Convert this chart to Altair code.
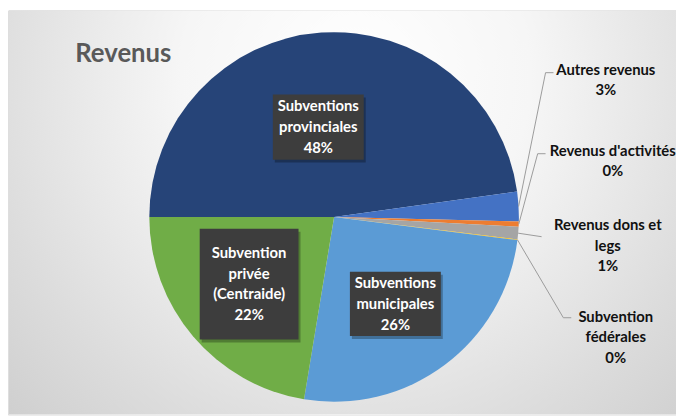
import math
import altair as alt
import pandas as pd

# ---------------- data ----------------
categories = [
    "Subventions provinciales",
    "Autres revenus",
    "Revenus d'activités",
    "Revenus dons et legs",
    "Subvention fédérales",
    "Subventions municipales",
    "Subvention privée (Centraide)",
]
values = [47.8, 2.6, 0.45, 1.1, 0.05, 25.6, 22.4]
colors = ["#264478", "#4472C4", "#ED7D31", "#A5A5A5", "#FFC000", "#5B9BD5", "#70AD47"]
label_lines = [
    ["Subventions", "provinciales"],
    ["Autres revenus"],
    ["Revenus d'activités"],
    ["Revenus dons et", "legs"],
    ["Subvention", "fédérales"],
    ["Subventions", "municipales"],
    ["Subvention", "privée", "(Centraide)"],
]
title_text = "Revenus"

# ---------------- layout ----------------
W, H = 676, 409
CX, CY, R = 330, 209, 187
START = 270.0  # degrees, 9 o'clock
FONT = "Lato"

# inside labels: index -> (center x, center y, box w, box h)
inside = {0: (314, 118, 92, 66), 5: (392, 297, 92, 65), 6: (244, 277, 100, 112)}
# outside labels: index -> (text x, first line y, elbow x, elbow y, end x, end y)
outside = {
    1: (605, 60, 544, 63, 552, 63),
    2: (612, 142, 536, 145, 544, 145),
    3: (607, 217, 540, 229, 540, 229),
    4: (615, 310, 562, 311, 570, 311),
}
LH = 21

total = sum(values)
pct = [round(v / total * 100) for v in values]
texts = ["\n".join(l + [f"{p}%"]) for l, p in zip(label_lines, pct)]
nlines = [len(l) + 1 for l in label_lines]

df = pd.DataFrame({"cat": categories, "value": values, "idx": list(range(len(values)))})

# midpoint of each slice on the rim (for leader lines)
mids = []
acc = 0.0
for v in values:
    a = math.radians(START + (acc + v / 2) / total * 360)
    mids.append((CX + R * math.sin(a), CY - R * math.cos(a)))
    acc += v

bg = alt.Chart(pd.DataFrame({"a": [0]})).mark_rect(
    fill=alt.Gradient(
        gradient="radial",
        stops=[
            alt.GradientStop(offset=0, color="#ffffff"),
            alt.GradientStop(offset=0.35, color="#f6f6f6"),
            alt.GradientStop(offset=0.75, color="#dcdcdc"),
            alt.GradientStop(offset=1, color="#cdcdcd"),
        ],
        x1=0.52, y1=0.3, r1=0, x2=0.52, y2=0.3, r2=0.75,
    )
).encode(x=alt.value(1), x2=alt.value(W), y=alt.value(0), y2=alt.value(H))

pie = alt.Chart(df).mark_arc(radius=R, strokeWidth=0).encode(
    theta=alt.Theta("value:Q", stack=True,
                    scale=alt.Scale(domain=[0, total], range=[math.radians(START), math.radians(START) + 2 * math.pi])),
    color=alt.Color("cat:N", scale=alt.Scale(domain=categories, range=colors), legend=None),
    order=alt.Order("idx:Q"),
    x=alt.value(CX),
    y=alt.value(CY),
)

# leader lines
segs = []
for i, (tx, ty, ex, ey, fx, fy) in outside.items():
    sx, sy = mids[i]
    segs.append({"x": sx, "y": sy, "x2": ex, "y2": ey})
    if (fx, fy) != (ex, ey):
        segs.append({"x": ex, "y": ey, "x2": fx, "y2": fy})
leaders = alt.Chart(pd.DataFrame(segs)).mark_rule(color="#9a9a9a", strokeWidth=1).encode(
    x=alt.X("x:Q", scale=None), y=alt.Y("y:Q", scale=None),
    x2="x2:Q", y2="y2:Q",
)

boxes = pd.DataFrame([
    {"x": cx - w / 2, "x2": cx + w / 2, "y": cy - h / 2, "y2": cy + h / 2}
    for (cx, cy, w, h) in inside.values()
])
shadow = alt.Chart(boxes).mark_rect(color="#000000", opacity=0.28).encode(
    x=alt.X("sx:Q", scale=None), x2="sx2:Q", y=alt.Y("sy:Q", scale=None), y2="sy2:Q"
).transform_calculate(sx="datum.x + 2", sx2="datum.x2 + 2", sy="datum.y + 3", sy2="datum.y2 + 3")
box = alt.Chart(boxes).mark_rect(color="#3d3d3d").encode(
    x=alt.X("x:Q", scale=None), x2="x2:Q", y=alt.Y("y:Q", scale=None), y2="y2:Q"
)

# first line y so that the text block is centred on the box
in_df = pd.DataFrame([
    {"x": inside[i][0], "y": inside[i][1] - (nlines[i] - 1) * LH / 2, "t": texts[i]} for i in inside
])
in_text = alt.Chart(in_df).mark_text(
    font=FONT, fontWeight="bold", fontSize=15, color="#ffffff",
    align="center", baseline="middle", lineBreak="\n", lineHeight=LH,
).encode(x=alt.X("x:Q", scale=None), y=alt.Y("y:Q", scale=None), text="t:N")

out_df = pd.DataFrame([
    {"x": outside[i][0], "y": outside[i][1], "t": texts[i]} for i in outside
])
out_text = alt.Chart(out_df).mark_text(
    font=FONT, fontWeight="bold", fontSize=15, color="#111111",
    align="center", baseline="middle", lineBreak="\n", lineHeight=LH,
).encode(x=alt.X("x:Q", scale=None), y=alt.Y("y:Q", scale=None), text="t:N")

title = alt.Chart(pd.DataFrame({"t": [title_text]})).mark_text(
    font=FONT, fontWeight="bold", fontSize=26, color="#595959",
    align="left", baseline="alphabetic",
).encode(x=alt.value(68), y=alt.value(52), text="t:N")

chart = alt.layer(bg, pie, leaders, shadow, box, in_text, out_text, title).properties(
    width=W, height=H, padding=0, autosize=alt.AutoSizeParams(type="none")
).configure_view(stroke=None).configure(background="#ffffff")

chart.save("out.html", embed_options={"renderer": "svg", "actions": False})
